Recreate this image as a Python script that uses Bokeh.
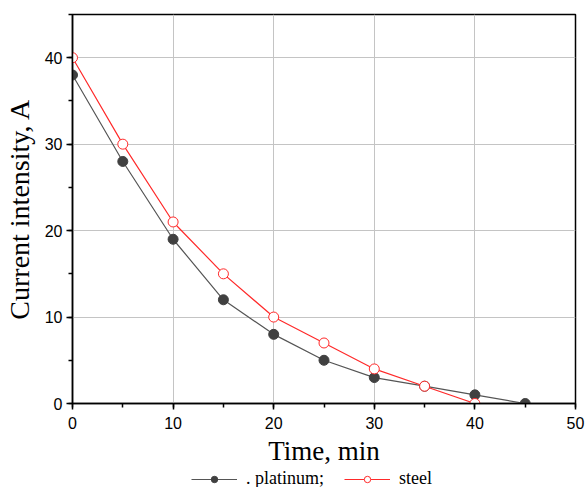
from bokeh.plotting import figure
from bokeh.layouts import column
from bokeh.models import Range1d, SingleIntervalTicker, Legend, LegendItem, ColumnDataSource
from bokeh.embed import file_html
from bokeh.resources import INLINE

time_platinum = [0, 5, 10, 15, 20, 25, 30, 35, 40, 45]
platinum = [38, 28, 19, 12, 8, 5, 3, 2, 1, 0]
time_steel = [0, 5, 10, 15, 20, 25, 30, 35, 40]
steel = [40, 30, 21, 15, 10, 7, 4, 2, 0]

x_label = "Time, min"
y_label = "Current intensity, A"
label_platinum = ". platinum;"
label_steel = "steel"

gray = "#555555"
red = "#ff2a2a"

p = figure(frame_width=503, frame_height=389, output_backend="svg", toolbar_location=None,
           x_range=Range1d(0, 50), y_range=Range1d(0, 45),
           min_border_left=63, min_border_right=12, min_border_top=14, min_border_bottom=0)
p.background_fill_color = "white"
p.border_fill_color = "white"
p.outline_line_color = "black"
p.outline_line_width = 1.5

src_p = ColumnDataSource(dict(x=time_platinum, y=platinum))
src_s = ColumnDataSource(dict(x=time_steel, y=steel))

p.line("x", "y", source=src_p, line_color=gray, line_width=1.2)
p.scatter("x", "y", source=src_p, size=10, fill_color="#404040", line_color="#404040")
p.line("x", "y", source=src_s, line_color=red, line_width=1.2)
p.scatter("x", "y", source=src_s, size=10, fill_color="white", line_color=red, line_width=1)

for ax in (p.xaxis[0], p.yaxis[0]):
    ax.axis_line_color = "black"
    ax.axis_line_width = 1.5
    ax.major_tick_line_color = "black"
    ax.major_tick_line_width = 1.5
    ax.minor_tick_line_color = "black"
    ax.minor_tick_line_width = 1.5
    ax.major_tick_out = 6
    ax.major_tick_in = 0
    ax.minor_tick_out = 4
    ax.minor_tick_in = 0
    ax.major_label_text_font = "Liberation Sans"
    ax.major_label_text_font_size = "16px"
    ax.major_label_text_color = "black"
    ax.axis_label_text_font = "Liberation Serif"
    ax.axis_label_text_font_style = "normal"
    ax.axis_label_text_color = "black"

p.xaxis.axis_label_text_font_size = "27px"
p.yaxis.axis_label_text_font_size = "28px"
p.xaxis.ticker = SingleIntervalTicker(interval=10, num_minor_ticks=2)
p.yaxis.ticker = SingleIntervalTicker(interval=10, num_minor_ticks=2)
p.xaxis.axis_label = x_label
p.yaxis.axis_label = y_label
p.xaxis.major_label_standoff = 7
p.xaxis.axis_label_standoff = 4
p.yaxis.major_label_standoff = 4
p.yaxis.axis_label_standoff = 7

p.xgrid.ticker = p.xaxis.ticker
p.ygrid.ticker = p.yaxis.ticker
p.xgrid.grid_line_color = "#c4c4c4"
p.ygrid.grid_line_color = "#c4c4c4"

# legend strip below the chart
q = figure(width=585, height=21, output_backend="svg", toolbar_location=None,
           x_range=Range1d(-100, -99), y_range=Range1d(-100, -99),
           x_axis_location=None, y_axis_location=None,
           min_border_left=0, min_border_right=0, min_border_top=0, min_border_bottom=0)
q.grid.visible = False
q.outline_line_color = None
q.background_fill_color = "white"
q.border_fill_color = "white"
q_lp = q.line("x", "y", source=src_p, line_color=gray, line_width=1.2)
q_mp = q.scatter("x", "y", source=src_p, size=10, fill_color="#404040", line_color="#404040")
q_ls = q.line("x", "y", source=src_s, line_color=red, line_width=1.2)
q_ms = q.scatter("x", "y", source=src_s, size=10, fill_color="white", line_color=red, line_width=1)

legend = Legend(items=[LegendItem(label=label_platinum, renderers=[q_lp, q_mp]),
                       LegendItem(label=label_steel, renderers=[q_ls, q_ms])],
                orientation="horizontal", location=(119, 0),
                glyph_width=46, glyph_height=16, label_standoff=9, spacing=20,
                padding=0, margin=0, border_line_color=None, background_fill_alpha=0,
                label_text_font="Liberation Serif", label_text_font_size="18px",
                label_text_color="black")
q.add_layout(legend, "center")

layout = column(p, q, spacing=0)
open("out.html", "w").write(file_html(layout, INLINE))
